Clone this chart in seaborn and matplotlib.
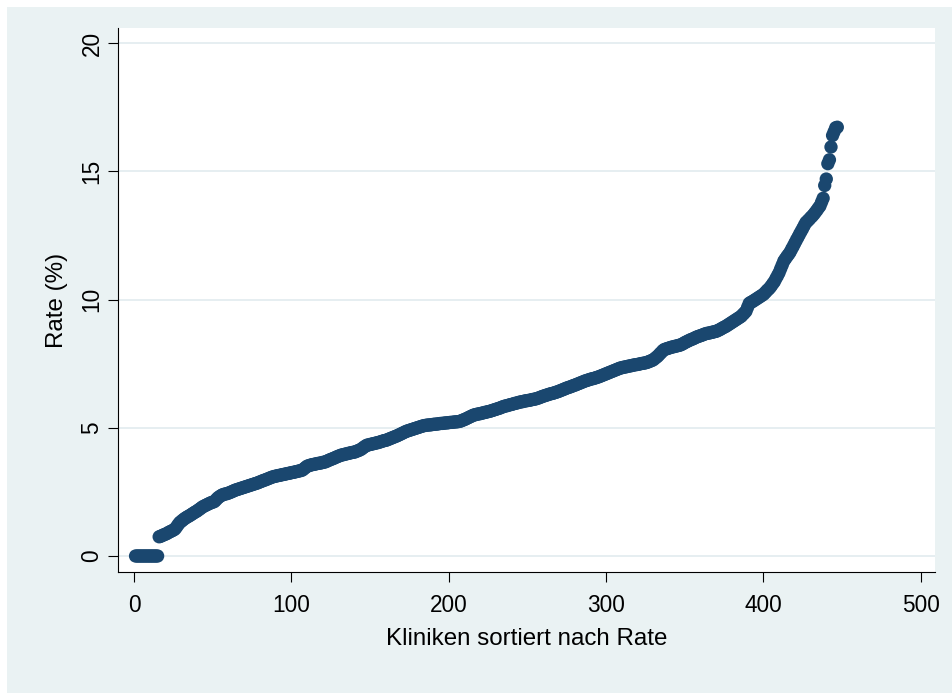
import numpy as np
import pandas as pd
import matplotlib
matplotlib.use("Agg")
import matplotlib.pyplot as plt
from matplotlib.patches import Rectangle
import seaborn as sns

# Clinic rates (%), sorted ascending; one value per clinic
rates_zero = [0.0] * 15
rates_low = [
    0.75, 0.77, 0.80, 0.83, 0.85, 0.88, 0.92, 0.95, 0.98, 1.01,
    1.05, 1.13, 1.22, 1.30, 1.35, 1.40, 1.45, 1.49, 1.53, 1.56,
    1.60, 1.64, 1.68, 1.72, 1.75, 1.80, 1.84, 1.89, 1.93, 1.96,
    1.99, 2.02, 2.05, 2.08, 2.10, 2.12, 2.18, 2.25, 2.30, 2.34,
    2.38, 2.40, 2.42, 2.43, 2.45, 2.48, 2.50, 2.53, 2.56, 2.58,
    2.60, 2.62, 2.64, 2.66, 2.68, 2.70, 2.72, 2.74, 2.76, 2.78,
    2.80, 2.82, 2.84, 2.86, 2.89, 2.91, 2.94, 2.96, 2.98, 3.01,
    3.03, 3.06, 3.08, 3.10, 3.11, 3.13, 3.14, 3.15, 3.17, 3.18,
    3.19, 3.21, 3.22, 3.23, 3.25, 3.26, 3.27, 3.29, 3.30, 3.32,
    3.33, 3.35, 3.40, 3.45, 3.50, 3.52, 3.54, 3.56, 3.57, 3.58,
    3.60, 3.61, 3.62, 3.63, 3.65, 3.66, 3.68, 3.71, 3.74, 3.76,
    3.79, 3.81, 3.84, 3.87, 3.89, 3.92, 3.94, 3.95, 3.97, 3.98,
    4.00, 4.01, 4.03, 4.04, 4.05, 4.07, 4.10, 4.12, 4.15, 4.19,
    4.24, 4.28, 4.32, 4.33, 4.35, 4.36, 4.38, 4.39, 4.41, 4.42,
    4.44, 4.46, 4.48, 4.50, 4.51, 4.53, 4.56, 4.58, 4.61, 4.63,
    4.66, 4.68, 4.71, 4.74, 4.77, 4.80, 4.83, 4.86, 4.88, 4.90,
    4.92, 4.94, 4.96, 4.98, 5.00, 5.02, 5.04, 5.06, 5.08, 5.09,
]
rates_mid = [
    5.10, 5.11, 5.11, 5.12, 5.13, 5.14, 5.14, 5.15, 5.16, 5.17,
    5.17, 5.18, 5.19, 5.19, 5.20, 5.21, 5.21, 5.22, 5.23, 5.23,
    5.24, 5.25, 5.27, 5.30, 5.32, 5.35, 5.38, 5.41, 5.44, 5.47,
    5.50, 5.51, 5.53, 5.54, 5.55, 5.57, 5.58, 5.60, 5.61, 5.63,
    5.64, 5.66, 5.68, 5.70, 5.72, 5.74, 5.76, 5.78, 5.81, 5.83,
    5.85, 5.86, 5.88, 5.90, 5.91, 5.93, 5.95, 5.96, 5.98, 6.00,
    6.01, 6.02, 6.04, 6.05, 6.06, 6.07, 6.08, 6.10, 6.11, 6.12,
    6.14, 6.16, 6.18, 6.21, 6.23, 6.25, 6.27, 6.29, 6.31, 6.33,
    6.34, 6.36, 6.38, 6.40, 6.42, 6.45, 6.47, 6.50, 6.52, 6.55,
    6.57, 6.59, 6.61, 6.64, 6.66, 6.68, 6.71, 6.73, 6.76, 6.78,
    6.81, 6.83, 6.85, 6.87, 6.89, 6.91, 6.92, 6.94, 6.96, 6.98,
    7.00, 7.03, 7.05, 7.08, 7.10, 7.13, 7.15, 7.18, 7.20, 7.23,
    7.25, 7.28, 7.30, 7.33, 7.34, 7.36, 7.37, 7.38, 7.40, 7.41,
    7.42, 7.44, 7.45, 7.46, 7.47, 7.48, 7.50, 7.51, 7.52, 7.53,
    7.55, 7.57, 7.60, 7.62, 7.65, 7.70, 7.75, 7.80, 7.87, 7.93,
    8.00, 8.05, 8.07, 8.09, 8.11, 8.13, 8.15, 8.16, 8.18, 8.19,
    8.21, 8.22, 8.25, 8.28, 8.32, 8.35, 8.38, 8.41, 8.44, 8.46,
    8.49, 8.52, 8.55, 8.57, 8.59, 8.61, 8.64, 8.66, 8.68, 8.69,
    8.70, 8.72, 8.73, 8.75, 8.76, 8.79, 8.82, 8.85, 8.89, 8.92,
]
rates_high = [
    8.95, 8.99, 9.03, 9.07, 9.11, 9.15, 9.19, 9.23, 9.27, 9.31,
    9.35, 9.42, 9.48, 9.55, 9.70, 9.85, 9.89, 9.92, 9.96, 10.00,
    10.04, 10.08, 10.12, 10.16, 10.20, 10.26, 10.33, 10.39, 10.45, 10.53,
    10.62, 10.70, 10.82, 10.93, 11.05, 11.20, 11.35, 11.50, 11.59, 11.68,
    11.76, 11.85, 11.97, 12.08, 12.20, 12.32, 12.43, 12.55, 12.66, 12.77,
    12.89, 13.00, 13.06, 13.12, 13.19, 13.25, 13.32, 13.40, 13.48, 13.57,
    13.65, 13.80, 13.95, 14.45, 14.70, 15.30, 15.45, 15.95, 16.40, 16.55,
    16.70, 16.72,
]

x_ticks = [0, 100, 200, 300, 400, 500]
y_ticks = [0, 5, 10, 15, 20]
x_label = "Kliniken sortiert nach Rate"
y_label = "Rate (%)"

rates = rates_zero + rates_low + rates_mid + rates_high
df = pd.DataFrame({"rank": np.arange(1, len(rates) + 1), "rate": rates})

BG = "#EAF2F3"
NAVY = "#1A476F"

plt.rcParams["font.family"] = ["Liberation Sans", "DejaVu Sans"]

fig = plt.figure(figsize=(9.52, 6.93), dpi=100, facecolor="white")
W, H = 952, 693
fig.patches.append(Rectangle((7 / W, 0), 1 - 7 / W, 1 - 7 / H,
                             transform=fig.transFigure, facecolor=BG,
                             edgecolor="none", zorder=-10))

ax = fig.add_axes([118 / W, 121 / H, 817 / W, 544 / H])
ax.set_facecolor("white")

sns.scatterplot(data=df, x="rank", y="rate", ax=ax, color=NAVY, s=92,
                linewidth=0, edgecolor="none", zorder=3, legend=False)

ax.set_xlim(-10.17, 509.1)
ax.set_ylim(-0.624, 20.59)
ax.set_xticks(x_ticks)
ax.set_yticks(y_ticks)
ax.set_yticklabels([str(t) for t in y_ticks], rotation=90, va="center")

ax.grid(axis="y", color="#E6EEF1", linewidth=1.4, zorder=0)
ax.grid(axis="x", visible=False)
ax.set_axisbelow(True)

for side in ("top", "right"):
    ax.spines[side].set_visible(False)
for side in ("left", "bottom"):
    ax.spines[side].set_color("black")
    ax.spines[side].set_linewidth(0.8)

ax.tick_params(axis="both", direction="out", length=7.5, width=0.8,
               color="black", labelsize=16.3, labelcolor="black")
ax.tick_params(axis="x", pad=8)
ax.tick_params(axis="y", pad=3)

ax.set_xlabel(x_label, fontsize=17.4, labelpad=8)
ax.set_ylabel(y_label, fontsize=17.4, labelpad=9)

fig.savefig("out.png", dpi=100, facecolor=fig.get_facecolor())
